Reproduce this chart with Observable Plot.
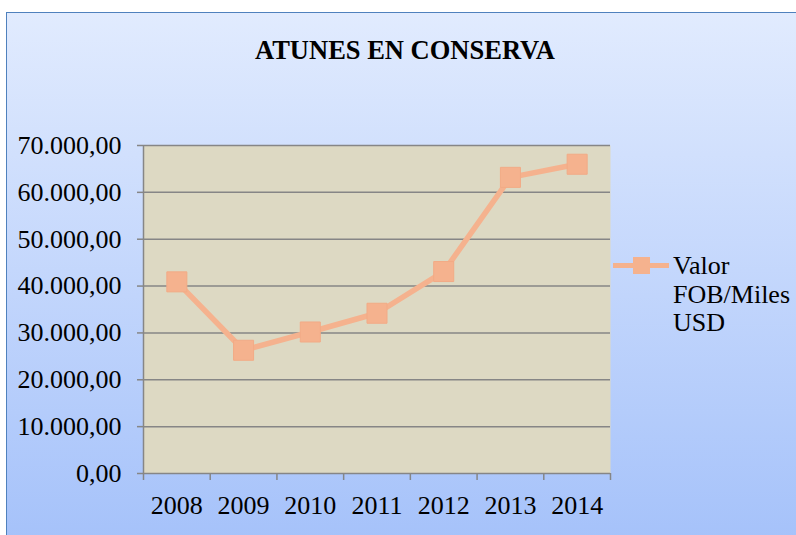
<!DOCTYPE html>
<html><head><meta charset="utf-8">
<script src="https://cdn.jsdelivr.net/npm/d3@7"></script>
<script src="https://cdn.jsdelivr.net/npm/@observablehq/plot@0.6"></script>
<style>
html,body{margin:0;padding:0;background:#fff;width:796px;height:535px;overflow:hidden;position:relative;}
#bg{position:absolute;left:6px;top:12px;width:800px;height:540px;border:1.5px solid #4f81bd;background:linear-gradient(#e1ebfe,#a4c1fa);}
#plot{position:absolute;left:0;top:0;}
#title{position:absolute;left:205px;width:400px;top:37px;text-align:center;font:bold 26.5px "Liberation Serif","Times New Roman",serif;line-height:1;white-space:nowrap;color:#000;}
#legend{position:absolute;left:613px;top:252px;}
#legend .sw{position:absolute;left:0;top:11px;width:56px;height:5px;background:#f5b28e;}
#legend .sq{position:absolute;left:20px;top:5px;width:17px;height:17px;background:#f5b28e;}
#legend .tx{position:absolute;left:60px;top:0;font:26px "Liberation Serif","Times New Roman",serif;line-height:28.5px;color:#000;white-space:nowrap;}
</style></head>
<body>
<div id="bg"></div>
<div id="plot"></div>
<div id="title"></div>
<div id="legend"><div class="sw"></div><div class="sq"></div><div class="tx"></div></div>
<script>
const title = "ATUNES EN CONSERVA";
const seriesName = ["Valor", "FOB/Miles", "USD"];
const years = [2008, 2009, 2010, 2011, 2012, 2013, 2014];
const values = [40900, 26300, 30200, 34200, 43100, 63200, 66000];
const yTicks = [0, 10000, 20000, 30000, 40000, 50000, 60000, 70000];

document.getElementById("title").textContent = title;
document.querySelector("#legend .tx").innerHTML = seriesName.join("<br>");

const fmt = d3.formatLocale({decimal: ",", thousands: ".", grouping: [3], currency: ["", ""]}).format(",.2f");
const data = years.map((y, i) => ({year: y, value: values[i]}));
const bounds = [...years.map(y => y - 0.5), years[years.length - 1] + 0.5];
const grid = "#868686";

const chart = Plot.plot({
  width: 796, height: 535,
  marginLeft: 143, marginRight: 186, marginTop: 145, marginBottom: 62,
  style: {background: "transparent", fontFamily: "'Liberation Serif', 'Times New Roman', serif", fontSize: "26px", color: "#000", overflow: "visible"},
  x: {domain: [bounds[0], bounds[bounds.length - 1]]},
  y: {domain: [0, 70000]},
  marks: [
    Plot.frame({fill: "#ddd9c3", stroke: null}),
    Plot.gridY(yTicks.slice(1), {stroke: grid, strokeOpacity: 1, strokeWidth: 1.5}),
    Plot.ruleX([bounds[0]], {stroke: grid, strokeWidth: 1.5}),
    Plot.ruleY([0], {stroke: grid, strokeWidth: 1.5}),
    Plot.axisY({ticks: yTicks, tickSize: 6, tickPadding: 16, tickFormat: fmt, stroke: grid, strokeWidth: 1.5, fill: "#000", label: null}),
    Plot.axisX({ticks: bounds, tickSize: 7, tickFormat: () => "", stroke: grid, strokeWidth: 1.5, label: null}),
    Plot.axisX({ticks: years, tickSize: 0, tickPadding: 22, tickFormat: d => String(d), fill: "#000", label: null}),
    Plot.line(data, {x: "year", y: "value", stroke: "#f5b28e", strokeWidth: 5.5}),
    Plot.dot(data, {x: "year", y: "value", symbol: "square", r: 11.3, fill: "#f5b28e", stroke: "#f2ab86", strokeWidth: 1})
  ]
});
document.getElementById("plot").appendChild(chart);
</script>
</body></html>
